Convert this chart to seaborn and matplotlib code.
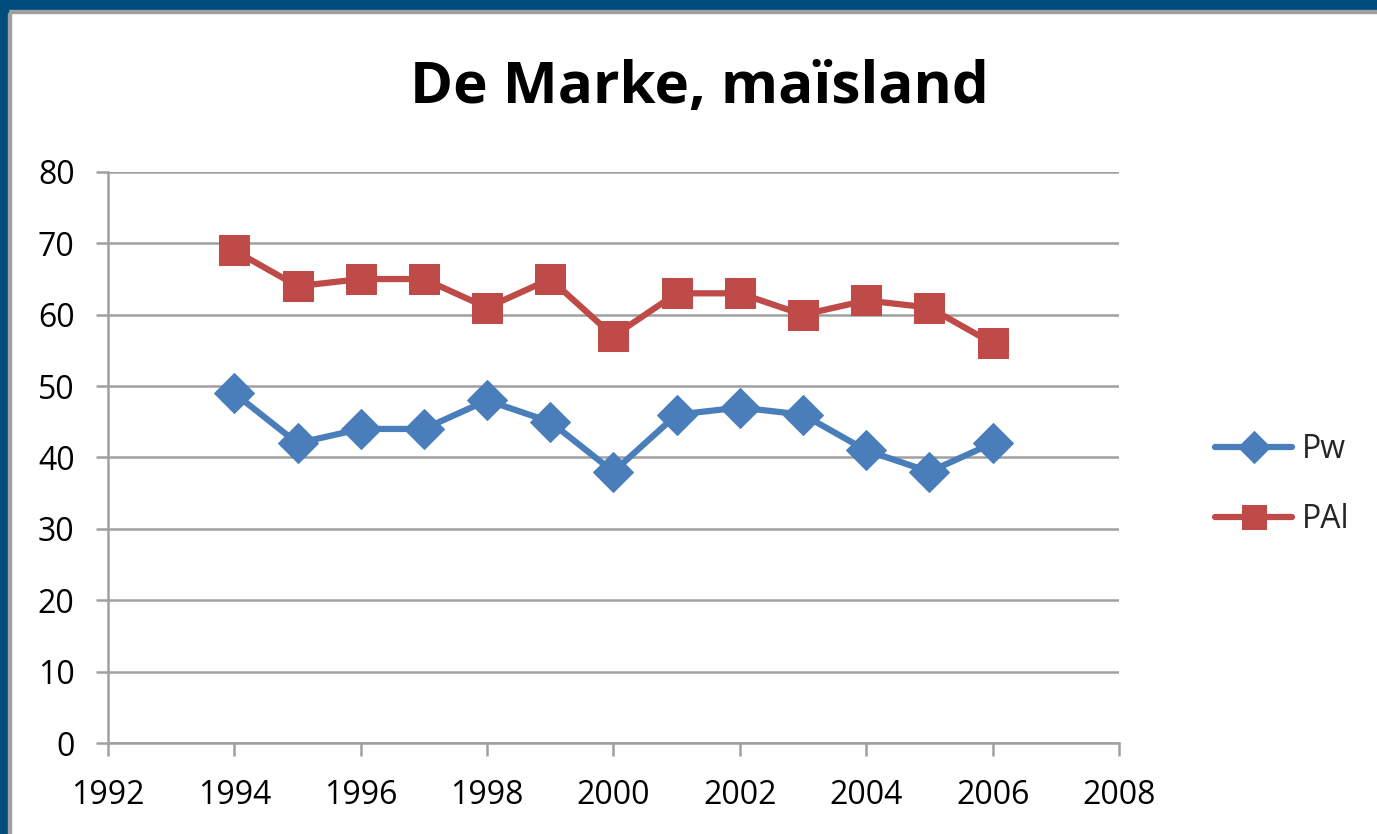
import numpy as np
import pandas as pd
import matplotlib.pyplot as plt
import seaborn as sns

# ── Data ──────────────────────────────────────────────────────────────
years = [1994, 1995, 1996, 1997, 1998, 1999, 2000, 2001, 2002, 2003, 2004, 2005, 2006]
pw = [49, 42, 44, 44, 48, 45, 38, 46, 47, 46, 41, 38, 42]
pal = [69, 64, 65, 65, 61, 65, 57, 63, 63, 60, 62, 61, 56]
series_names = ["Pw", "PAl"]
title = "De Marke, maïsland"

df = pd.concat([
    pd.DataFrame({"jaar": years, "waarde": pw, "reeks": "Pw"}),
    pd.DataFrame({"jaar": years, "waarde": pal, "reeks": "PAl"}),
])

sns.set_theme(style="white")
plt.rcParams["font.family"] = ["Open Sans", "DejaVu Sans"]

fig = plt.figure(figsize=(13.77, 8.34), dpi=100)
ax = fig.add_axes([0.0784, 0.1091, 0.7342, 0.6847])

colors = {"Pw": "#4A7EBB", "PAl": "#BE4B48"}
markers = {"Pw": "D", "PAl": "s"}
sizes_ = {"Pw": 20, "PAl": 22}

for name in series_names:
    sub = df[df["reeks"] == name]
    sns.lineplot(data=sub, x="jaar", y="waarde", ax=ax, color=colors[name],
                 linewidth=4.5, marker=markers[name], markersize=sizes_[name],
                 markeredgecolor=colors[name], label=name)

ax.set_xlim(1992, 2008)
ax.set_ylim(0, 80)
ax.set_xticks(np.arange(1992, 2009, 2))
ax.set_yticks(np.arange(0, 81, 10))
ax.set_xlabel("")
ax.set_ylabel("")
ax.yaxis.grid(True, color="#A0A0A0", linewidth=1.8)
ax.set_axisbelow(True)
for s in ["top", "right"]:
    ax.spines[s].set_visible(False)
for s in ["left", "bottom"]:
    ax.spines[s].set_color("#A0A0A0")
    ax.spines[s].set_linewidth(1.8)
ax.tick_params(axis="both", which="major", length=9, width=1.8, color="#A0A0A0",
               labelsize=23, labelcolor="black", direction="out")
ax.tick_params(axis="y", pad=15)
ax.tick_params(axis="x", pad=17)
ax.xaxis.set_ticks_position("bottom")
ax.yaxis.set_ticks_position("left")

fig.text(0.508, 0.895, title, ha="center", va="center", fontsize=42,
         fontweight="bold", color="black")

leg = ax.legend(loc="center left", bbox_to_anchor=(1.067, 0.453), frameon=False,
                fontsize=23, handlelength=2.4, labelspacing=1.15, handletextpad=0.3,
                markerscale=0.8)

# frame border (blue band top and left, with grey inner line)
fig.patches.append(plt.Rectangle((0, 0.988), 1, 0.012, transform=fig.transFigure,
                                 color="#004C7C", zorder=10))
fig.patches.append(plt.Rectangle((0, 0.985), 1, 0.003, transform=fig.transFigure,
                                 color="#A0A0A0", zorder=10))
fig.patches.append(plt.Rectangle((0, 0), 0.006, 1, transform=fig.transFigure,
                                 color="#004C7C", zorder=10))
fig.patches.append(plt.Rectangle((0.006, 0), 0.002, 0.985, transform=fig.transFigure,
                                 color="#A0A0A0", zorder=10))

fig.savefig("out.png", dpi=100)
